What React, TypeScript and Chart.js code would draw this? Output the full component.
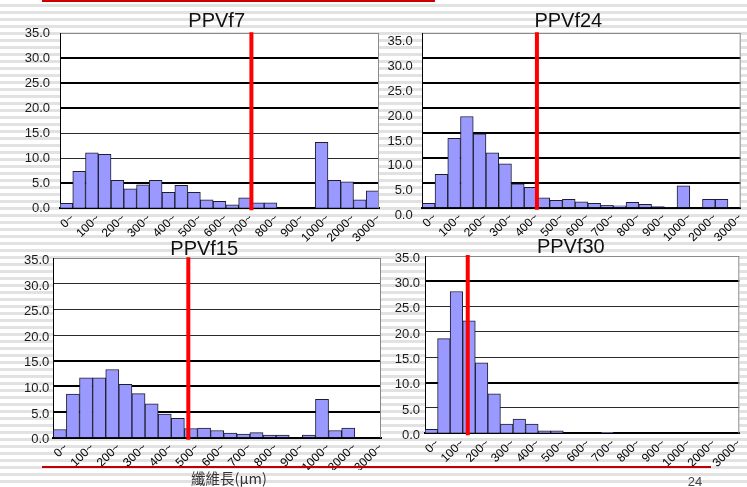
import React, { useEffect, useRef } from 'react';
import { Chart, registerables } from 'chart.js';

Chart.register(...registerables);

const FONT = 'Arial, "Liberation Sans", sans-serif';

// ---- data ----
const binLabels = [
  '0~', '50~', '100~', '150~', '200~', '250~', '300~', '350~', '400~', '450~',
  '500~', '550~', '600~', '650~', '700~', '750~', '800~', '850~', '900~', '950~',
  '1000~', '1500~', '2000~', '2500~', '3000~',
];
const chartTitles = ['PPVf7', 'PPVf24', 'PPVf15', 'PPVf30'];
const ppvf7 = [1.0, 7.4, 11.1, 10.8, 5.6, 3.9, 4.7, 5.6, 3.2, 4.6, 3.2, 1.7, 1.4, 0.7, 2.1, 1.1, 1.1, 0, 0.1, 0, 13.2, 5.6, 5.3, 1.7, 3.5];
const ppvf24 = [0.9, 6.7, 13.9, 18.3, 14.8, 11.0, 8.8, 4.8, 4.1, 2.0, 1.5, 1.7, 1.2, 0.9, 0.5, 0.4, 1.1, 0.7, 0.2, 0.1, 4.4, 0, 1.7, 1.7, 0];
const ppvf15 = [1.6, 8.5, 11.7, 11.7, 13.3, 10.4, 8.6, 6.6, 4.6, 3.8, 1.8, 1.9, 1.4, 0.9, 0.7, 1.0, 0.5, 0.5, 0, 0.5, 7.5, 1.4, 1.9, 0, 0];
const ppvf30 = [0.8, 18.7, 28.0, 22.2, 13.9, 7.8, 1.8, 2.8, 1.8, 0.5, 0.5, 0, 0, 0, 0.2, 0, 0, 0, 0, 0, 0, 0, 0, 0, 0];
const seriesValues = [ppvf7, ppvf24, ppvf15, ppvf30];
// mean fibre length (µm) marked by the red line
const meanLengthUm = [750, 450, 515, 170];
const binWidthUm = 50;
const yMin = 0;
const yMax = 35;
const yStep = 5;
const axisTitle = '纖維長(μm)';
const pageNumber = '24';

// ---- layout / style (page pixel coordinates) ----
type Spec = {
  left: number; top: number; height: number;
  L: number; T: number; R: number; B: number;
  tcx: number; tcy: number;
  yGap: number; yLabelOffset: number; thick: number[];
};
const specs: Spec[] = [
  { left: 0, top: 0, height: 242, L: 60, T: 33.3, R: 379, B: 208.3, tcx: 216.7, tcy: 21.7, yGap: 10, yLabelOffset: 0, thick: [5, 20, 25, 30] },
  { left: 380, top: 0, height: 242, L: 422.3, T: 33.3, R: 740.7, B: 207.7, tcx: 568.3, tcy: 21.7, yGap: 9.6, yLabelOffset: 8, thick: [5, 10, 15, 20, 25, 30] },
  { left: 0, top: 236, height: 234, L: 53.3, T: 258.3, R: 381, B: 437.7, tcx: 204.2, tcy: 249.5, yGap: 4, yLabelOffset: 2, thick: [5, 10, 15] },
  { left: 390, top: 236, height: 234, L: 425, T: 256, R: 739.3, B: 433.3, tcx: 570.8, tcy: 247.9, yGap: 5, yLabelOffset: 2, thick: [10, 30] },
];

const framePlugin = {
  id: 'plotFrame',
  beforeDraw(chart: any) {
    const { ctx, chartArea: a } = chart;
    ctx.save();
    ctx.fillStyle = '#ffffff';
    ctx.fillRect(a.left, a.top, a.right - a.left, a.bottom - a.top);
    ctx.restore();
  },
  afterDatasetsDraw(chart: any, _args: any, opts: any) {
    const { ctx, chartArea: a, scales } = chart;
    ctx.save();
    ctx.strokeStyle = '#8a8a8a';
    ctx.lineWidth = 1;
    ctx.beginPath();
    ctx.moveTo(a.right - 0.5, a.top);
    ctx.lineTo(a.right - 0.5, a.bottom);
    ctx.stroke();
    const x = scales.x.getPixelForValue(opts.meanUm / binWidthUm - 0.5);
    ctx.strokeStyle = '#ff0000';
    ctx.lineWidth = 4;
    ctx.beginPath();
    ctx.moveTo(x, a.top - 1);
    ctx.lineTo(x, a.bottom + 2);
    ctx.stroke();
    ctx.restore();
  },
};

function Panel({ spec, title, values, meanUm }: { spec: Spec; title: string; values: number[]; meanUm: number }) {
  const ref = useRef<HTMLCanvasElement>(null);
  const { left, top, height, L, T, R, B, tcx, tcy } = spec;
  const cx = tcx - left;
  const width = Math.ceil(2 * cx);
  useEffect(() => {
    const c = ref.current!;
    const l = L - left, t = T - top, r = R - left, b = B - top;
    const cy = tcy - top;
    const pr = width - 2 * cx;
    const rw = 2 * cx - r; // invisible right box so the full-width title centres where wanted
    const lh = Math.round(Math.min(2 * (t - cy), 2 * cy, 22) * 10) / 10;
    const padTop = cy - lh / 2;
    const padBot = Math.max(t - cy - lh / 2, 0);
    const halfBar = (R - L) / binLabels.length / 2;
    const chart = new Chart(c, {
      type: 'bar',
      data: {
        labels: binLabels,
        datasets: [{
          data: values,
          backgroundColor: '#9999ff',
          borderColor: '#1e1e2e',
          borderWidth: 1,
          categoryPercentage: 1,
          barPercentage: 1,
        }],
      },
      options: {
        responsive: false,
        maintainAspectRatio: false,
        animation: false,
        events: [],
        layout: { padding: { left: 0, right: pr, top: 0, bottom: 0 } },
        plugins: {
          legend: { display: false },
          tooltip: { enabled: false },
          title: {
            display: true,
            text: title,
            color: '#111111',
            font: { family: FONT, size: 20, weight: 'normal', lineHeight: `${lh}px` },
            padding: { top: padTop, bottom: padBot },
          },
          plotFrame: { meanUm },
        } as any,
        scales: {
          x: {
            grid: { display: false, drawTicks: false },
            border: { display: true, color: '#000000', width: 2 },
            ticks: {
              autoSkip: false,
              maxRotation: 45,
              minRotation: 45,
              padding: 3,
              labelOffset: halfBar - 0.5,
              color: '#000000',
              font: { family: FONT, size: 12 },
              callback: (_v: any, i: number) => (i % 2 === 0 ? binLabels[i] : ''),
            },
            afterFit: (s: any) => { s.height = height - b; },
          },
          y: {
            min: yMin,
            max: yMax,
            ticks: {
              stepSize: yStep,
              padding: spec.yGap,
              labelOffset: spec.yLabelOffset,
              color: '#1a1a1a',
              font: { family: FONT, size: 13 },
              callback: (v: any) => Number(v).toFixed(1),
            },
            grid: {
              drawTicks: false,
              color: (ctx: any) => (ctx.tick && ctx.tick.value === yMax ? '#8a8a8a' : spec.thick.includes(ctx.tick?.value) ? '#000000' : '#2a2a2a'),
              lineWidth: (ctx: any) => (ctx.tick && ctx.tick.value === yMax ? 1 : spec.thick.includes(ctx.tick?.value) ? 2 : 1),
            },
            border: { display: true, color: '#000000', width: 1 },
            afterFit: (s: any) => { s.width = l; },
          },
          yPad: {
            type: 'linear',
            position: 'right',
            display: true,
            grid: { display: false, drawTicks: false },
            border: { display: false },
            ticks: { display: false },
            afterFit: (s: any) => { s.width = rw; },
          },
        },
      } as any,
      plugins: [framePlugin],
    });
    return () => chart.destroy();
  }, [spec, title, values, meanUm]);
  return (
    <canvas
      ref={ref}
      width={width}
      height={height}
      style={{ position: 'absolute', left, top, width, height }}
    />
  );
}

export default function App() {
  return (
    <div
      style={{
        position: 'fixed',
        left: 0,
        top: 0,
        width: 747,
        height: 487,
        overflow: 'hidden',
        background: 'repeating-linear-gradient(to bottom, #ffffff 0px, #ffffff 4px, #e2e2e2 4px, #e2e2e2 7px)',
        fontFamily: FONT,
      }}
    >
      <div style={{ position: 'absolute', left: 42, top: 0, width: 393, height: 2, background: '#cc0000' }} />
      {specs.map((s, i) => (
        <Panel key={i} spec={s} title={chartTitles[i]} values={seriesValues[i]} meanUm={meanLengthUm[i]} />
      ))}
      <div style={{ position: 'absolute', left: 42, top: 466, width: 669, height: 2, background: '#c00000' }} />
      <div
        style={{
          position: 'absolute', left: 186, top: 469, width: 86, textAlign: 'center',
          fontSize: 14.5, lineHeight: '17px', color: '#333333',
          fontFamily: '"Noto Sans CJK TC", "Noto Sans CJK SC", sans-serif', whiteSpace: 'nowrap',
        }}
      >
        {axisTitle}
      </div>
      <div
        style={{ position: 'absolute', left: 683, top: 474, width: 24, textAlign: 'center', fontSize: 13, lineHeight: '15px', color: '#444444' }}
      >
        {pageNumber}
      </div>
    </div>
  );
}
